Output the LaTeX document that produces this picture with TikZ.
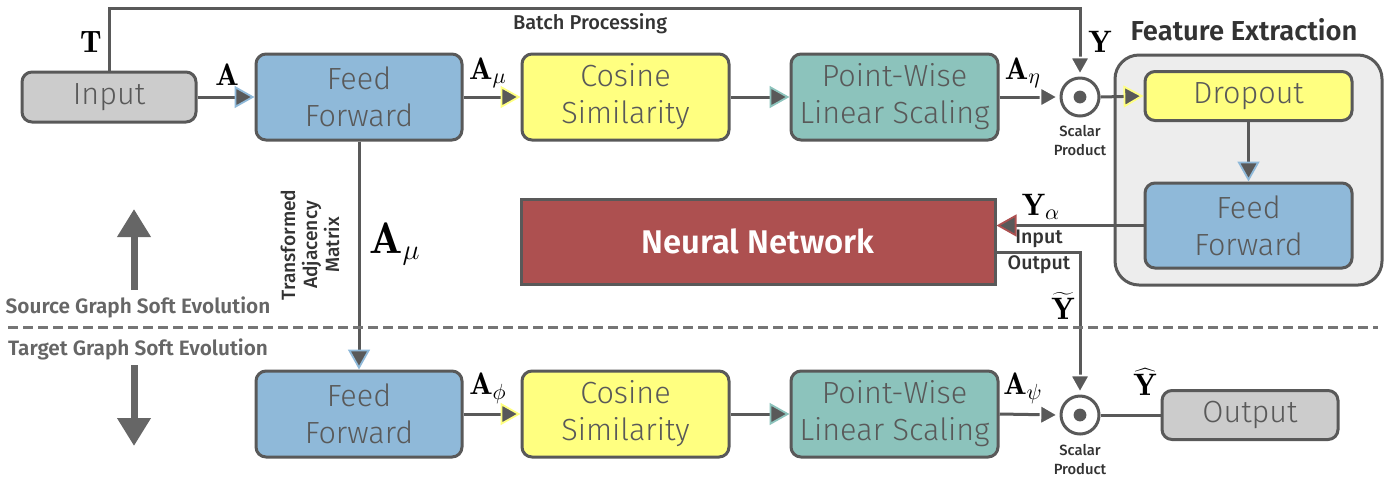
\documentclass[tikz,border=0pt]{standalone}
\usepackage{fontspec}
\usetikzlibrary{arrows.meta,calc}
\newfontfamily\boxfont{Fira Sans Light}
\newfontfamily\labfont{Fira Sans Medium}
\newfontfamily\semifont{Fira Sans SemiBold}
\definecolor{linegray}{HTML}{595959}
\definecolor{bluebox}{HTML}{8FB9D9}
\definecolor{yellowbox}{HTML}{FFFF80}
\definecolor{tealbox}{HTML}{8CC3BC}
\definecolor{graybox}{HTML}{CCCCCC}
\definecolor{redbox}{HTML}{AD5050}
\definecolor{contbox}{HTML}{EDEDED}
\definecolor{labgray}{HTML}{666666}
\definecolor{textdark}{HTML}{333333}
\begin{document}
\begin{tikzpicture}[x=0.5pt,y=-0.5pt,
  box/.style={draw=linegray,line width=1.5pt,rounded corners=5pt,align=center,
    text=linegray,font=\boxfont\fontsize{15.3}{18.5}\selectfont,inner sep=0pt},
  tall/.style={box,minimum height=43pt},
  short/.style={box,minimum height=24.5pt},
  conn/.style={draw=linegray,line width=1.5pt},
  tipc/.style={-{Triangle[length=10pt,width=11pt,line width=0.9pt,color=#1,fill=linegray]}},
  tipd/.style={-{Triangle[length=10pt,width=11pt,line width=0.9pt,color=white,fill=linegray]}},
  mlab/.style={font=\fontsize{15.5}{18}\selectfont,text=black,inner sep=0pt},
  small/.style={font=\labfont\fontsize{9.8}{11.5}\selectfont,text=textdark,inner sep=0pt,align=center},
  sp/.style={font=\labfont\fontsize{7.4}{9.5}\selectfont,text=textdark,inner sep=0pt,align=center},
  circ/.style={circle,draw=linegray,line width=1.5pt,fill=white,minimum size=19pt,inner sep=0pt},
  bigarrow/.style={draw=labgray,line width=3.5pt,-{Triangle[length=14pt,width=16pt,color=labgray]}}
]
\useasboundingbox (0,0) rectangle (1400,479);
% container
\node[draw=linegray,line width=1.5pt,fill=contbox,rounded corners=12pt,
  minimum width=133.5pt,minimum height=115pt] (cont) at (1248.5,170) {};
\node[font=\semifont\fontsize{13.7}{16}\selectfont,text=textdark,inner sep=0pt] (fetitle) at (1244,30) {Feature Extraction};
% top row
\node[box,fill=graybox,minimum width=87pt,minimum height=25pt] (inp) at (109,97) {Input};
\node[tall,fill=bluebox,minimum width=103pt] (ff1) at (359,97) {Feed\\Forward};
\node[tall,fill=yellowbox,minimum width=103.5pt] (cs1) at (625.5,97) {Cosine\\Similarity};
\node[tall,fill=tealbox,minimum width=103.5pt] (pw1) at (894.5,97) {Point-Wise\\Linear Scaling};
\node[circ] (c1) at (1080,97) {};
\fill[linegray] (c1) circle (3.2pt);
\node[short,fill=yellowbox,minimum width=103.5pt] (dr) at (1248.5,96) {Dropout};
\node[tall,fill=bluebox,minimum width=103.5pt,minimum height=42.5pt] (ff3) at (1248.5,225.5) {Feed\\Forward};
\node[draw=linegray,line width=1.5pt,fill=redbox,minimum width=237pt,minimum height=42.5pt,
  text=white,font=\semifont\fontsize{16.4}{19}\selectfont] (nn) at (758,241.5) {Neural Network};
% bottom row
\node[tall,fill=bluebox,minimum width=103pt] (ff2) at (359,414) {Feed\\Forward};
\node[tall,fill=yellowbox,minimum width=103.5pt] (cs2) at (625.5,414) {Cosine\\Similarity};
\node[tall,fill=tealbox,minimum width=103.5pt] (pw2) at (894.5,414) {Point-Wise\\Linear Scaling};
\node[circ] (c2) at (1080,415) {};
\fill[linegray] (c2) circle (3.2pt);
\node[box,fill=graybox,minimum width=88pt,minimum height=24.5pt] (out) at (1250,415) {Output};
% connectors top
\draw[conn,tipc=bluebox] (inp.east) -- (ff1.west);
\draw[conn,tipc=yellowbox] (ff1.east) -- (cs1.west);
\draw[conn,tipc=tealbox] (cs1.east) -- (pw1.west);
\draw[conn,tipd] (pw1.east) -- (c1.west);
\draw[conn,tipc=yellowbox] (c1.east) -- (dr.west);
\draw[conn,tipc=bluebox] (dr.south) -- (ff3.north);
\draw[conn,tipc=redbox] (ff3.west) -- (ff3.west -| nn.east);
\coordinate (nnout) at ($(nn.east)+(0,10.5)$);
\draw[conn,tipd] (nnout) -| (c2.north);
\draw[conn,tipd] (inp.north) -- ++(0,-62) -| (c1.north);
\draw[conn,tipc=bluebox] (ff1.south) -- (ff2.north);
% connectors bottom
\draw[conn,tipc=yellowbox] (ff2.east) -- (cs2.west);
\draw[conn,tipc=tealbox] (cs2.east) -- (pw2.west);
\draw[conn,tipd] (pw2.east) -- (c2.west);
\draw[conn] (c2.east) -- (out.west);
% dashed separator
\coordinate (dl) at (8,327);
\coordinate (dr2) at (1378,327);
\draw[draw=labgray!90,line width=1.5pt,dash pattern=on 5pt off 2.5pt] (dl) -- (dr2);
% big arrows
\coordinate (ua0) at (134,290); \coordinate (ua1) at (134,209);
\coordinate (da0) at (134,365); \coordinate (da1) at (134,446);
\draw[bigarrow] (ua0) -- (ua1);
\draw[bigarrow] (da0) -- (da1);
% labels
\node[mlab] (lT) at (91,42) {$\mathbf{T}$};
\node[mlab] (lA) at (227,75) {$\mathbf{A}$};
\node[mlab] (lAmu) at (488,73) {$\mathbf{A}_{\mu}$};
\node[mlab] (lAeta) at (1023,73) {$\mathbf{A}_{\eta}$};
\node[mlab] (lY) at (1100,42) {$\mathbf{Y}$};
\node[font=\labfont\fontsize{10}{12}\selectfont,text=textdark,inner sep=0pt] (lbp) at (590,24) {Batch Processing};
\node[sp] (lsp1) at (1080,141) {Scalar\\Product};
\node[sp] (lsp2) at (1080,460) {Scalar\\Product};
\node[mlab] (lYa) at (1041,207) {$\mathbf{Y}_{\alpha}$};
\node[small] (lin) at (1039,239) {Input};
\node[small] (lout) at (1039,265) {Output};
\node[mlab] (lYt) at (1063,306) {$\widetilde{\mathbf{Y}}$};
\node[mlab] (lYh) at (1145,382) {$\widehat{\mathbf{Y}}$};
\node[mlab] (lAphi) at (488,388) {$\mathbf{A}_{\phi}$};
\node[mlab] (lApsi) at (1023,388) {$\mathbf{A}_{\psi}$};
\node[mlab,font=\fontsize{22}{26}\selectfont] (lAmu2) at (395,244) {$\mathbf{A}_{\mu}$};
\node[small,rotate=90,font=\labfont\fontsize{9.6}{11}\selectfont] (ltam) at (310,245) {Transformed\\Adjacency\\Matrix};
\node[font=\semifont\fontsize{10.4}{12}\selectfont,text=labgray,inner sep=0pt] (lsrc) at (138,307) {Source Graph Soft Evolution};
\node[font=\semifont\fontsize{10.4}{12}\selectfont,text=labgray,inner sep=0pt] (ltgt) at (138,349) {Target Graph Soft Evolution};
\end{tikzpicture}
\end{document}
